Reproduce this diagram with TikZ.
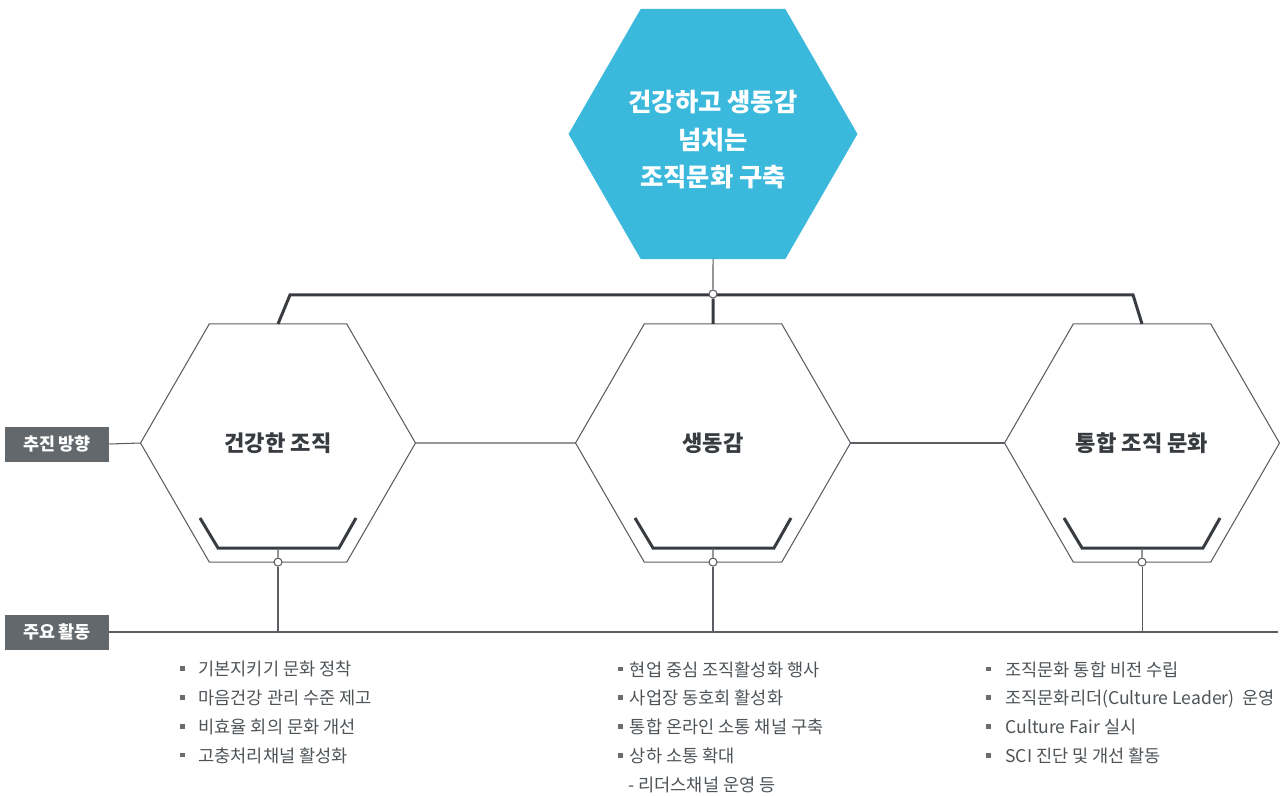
\documentclass[tikz,border=0pt]{standalone}
\usepackage{fontspec}
\setmainfont{Noto Sans CJK KR}
\usetikzlibrary{shapes.geometric}
\definecolor{skyblue}{HTML}{3AB9DC}
\definecolor{boxgray}{HTML}{63686C}
\definecolor{linegray}{HTML}{5A5E62}
\definecolor{bardark}{HTML}{383C40}
\definecolor{textgray}{HTML}{4E5357}
\newlength{\bulgap}
\newcommand{\bul}{\textcolor{textgray!85}{\rule[0.28em]{2.6pt}{2.6pt}}\hspace{\bulgap}}

\begin{document}
\begin{tikzpicture}[x = 0.02cm, y = -0.02cm,
    hexa/.style = {regular polygon, regular polygon sides = 6, draw = linegray, line width = 0.6pt,
                   inner sep = 0pt, outer sep = 0pt, minimum size = 5.5cm,
                   font = \fontsize{12.6}{15}\selectfont\bfseries, text = bardark},
    tophex/.style = {hexa, draw = none, fill = skyblue, minimum size = 5.78cm, text = white,
                     font = \fontsize{14.4}{21.3}\selectfont\bfseries, align = center},
    labelbox/.style = {fill = boxgray, text = white, minimum width = 2.08cm, minimum height = 0.7cm,
                       inner sep = 0pt, font = \fontsize{9.9}{12}\selectfont\bfseries},
    wire/.style = {draw = linegray, line width = 0.6pt},
    bar/.style = {draw = bardark, line width = 1.7pt},
    joint/.style = {circle, draw = linegray, fill = white, line width = 0.6pt, inner sep = 0pt, minimum size = 0.16cm},
    items/.style = {anchor = north west, align = left, inner sep = 0pt, text = textgray,
                    font = \fontsize{10}{16.4}\selectfont, execute at begin node = {\setlength{\bulgap}{#1}}}]
  \useasboundingbox (0, 0) rectangle (1280, 795);

  % goal and the three directions
  \node [tophex] (goal) at (713, 134){\rule{0pt}{18.5pt}건강하고 생동감\\넘치는\\조직문화 구축};
  \node [hexa] (health) at (278, 443){건강한 조직};
  \node [hexa] (vital) at (713, 443){생동감};
  \node [hexa] (unity) at (1142, 443){통합 조직 문화};

  \node [labelbox] (dir) at (57, 444){추진 방향};
  \node [labelbox] (act) at (57, 632){주요 활동};
  \coordinate (actend) at (1278, 632);

  % top bar
  \draw [bar] (health.north) -- ++(12, -29) -- ([shift = {(-9, -29)}]unity.north) -- (unity.north);
  \node [joint] (hub) at (713, 294){};
  \draw [wire] (goal.south) -- (hub);
  \draw [bar] (hub) -- (vital.north);

  \draw [wire] (dir.east) -- (health.west);
  \draw [wire] (health.east) -- (vital.west);
  \draw [wire] (vital.east) -- (unity.west);
  \draw [wire] (act.east) -- (actend);

  \foreach \h in {health, vital, unity} {
    \draw [bar] ([shift = {(-78, 75)}]\h.center) -- ++(18, 30) -- ++(121, 0) -- ++(17, -30);
    \node [joint] (\h-dot) at (\h.south){};
    \draw [wire] ([shift = {(0, 105)}]\h.center) -- (\h-dot);
    \draw [wire] (\h-dot) -- (\h-dot |- actend);
  }

  % activities
  \node [items = 7.7pt] (healthlist) at (180, 661){\bul 기본지키기 문화 정착\\
    \bul 마음건강 관리 수준 제고\\
    \bul 비효율 회의 문화 개선\\
    \bul 고충처리채널 활성화};
  \node [items = 4pt] (vitallist) at (618, 661){\bul 현업 중심 조직활성화 행사\\
    \bul 사업장 동호회 활성화\\
    \bul 통합 온라인 소통 채널 구축\\
    \bul 상하 소통 확대\\
    \hspace{5.7pt}- 리더스채널 운영 등};
  \node [items = 8.2pt] (unitylist) at (986, 661){\bul 조직문화 통합 비전 수립\\
    \bul 조직문화리더(Culture Leader)\ \ 운영\\
    \bul Culture Fair 실시\\
    \bul SCI 진단 및 개선 활동};
\end{tikzpicture}
\end{document}
